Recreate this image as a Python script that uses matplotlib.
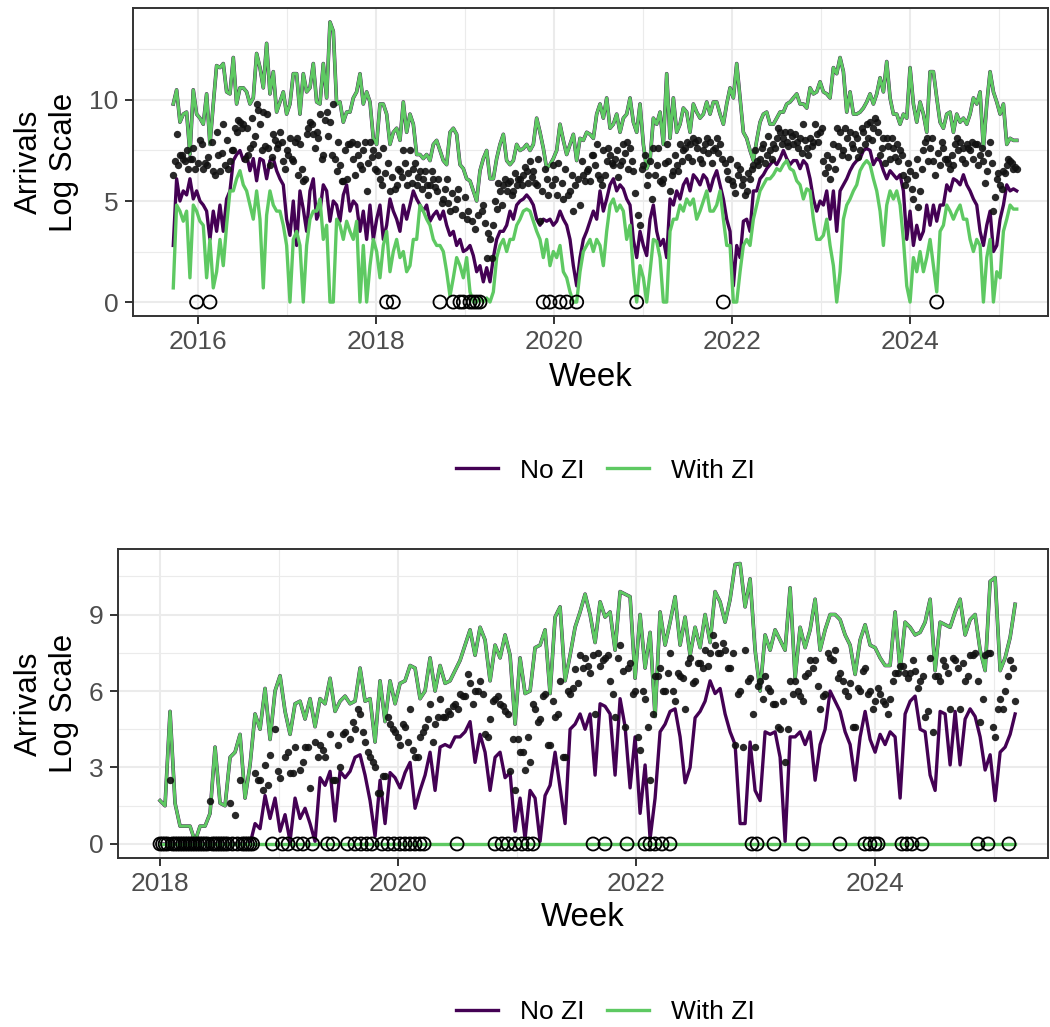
import numpy as np
import matplotlib
matplotlib.use("Agg")
import matplotlib.pyplot as plt
from matplotlib.lines import Line2D

plt.rcParams['font.family'] = ['Liberation Sans', 'DejaVu Sans']

# ---------------- data: top panel (decimal years, roughly bi-weekly readings) -------------
top_start, top_end = 2015.7225, 2025.199

top_upper = [
    9.8, 10.5, 8.9, 9.3, 9.4, 7.3, 10.5, 9.3, 9.1, 8.8, 10.3, 7.8, 9.8, 11.7, 11.6, 11.8, 10.4, 10.3, 12.1, 9.8,
    10.6, 10.6, 10.4, 9.8, 10.1, 12.3, 11.6, 10.6, 12.8, 10.3, 11.4, 9.4, 9.9, 10.4, 9.3, 9.8, 11.3, 11.3, 9.3, 11.3,
    10.4, 10.6, 11.8, 9.9, 9.8, 11.8, 10.1, 13.86, 13.4, 9.8, 9.9, 8.9, 9.4, 9.4, 10.1, 10.4, 11.3, 9.8, 10.4,
    9.9, 8.1, 7.8, 9.8, 9.8, 9.3, 7.8, 8.4, 8.6, 8.0, 9.9, 8.4, 9.3, 8.8, 7.3, 7.3, 7.1, 7.3, 7.0, 7.8,
    8.0, 7.5, 7.0, 6.8, 8.4, 8.6, 8.3, 6.8, 6.6, 6.1, 6.0, 5.5, 5.0, 6.5, 7.1, 7.5, 6.1, 6.1, 7.1, 7.8,
    8.3, 7.0, 6.8, 7.0, 7.8, 7.5, 7.6, 7.8, 7.5, 7.8, 9.1, 8.4, 7.6, 6.6, 6.8, 7.1, 7.5, 8.8, 8.0, 7.3,
    7.8, 8.3, 7.0, 8.1, 8.0, 8.4, 8.3, 8.1, 9.3,
    9.8, 9.1, 10.1, 8.6, 8.8, 9.3, 8.4, 9.1, 9.3, 10.1, 8.9, 8.4, 9.8, 7.8, 6.6, 7.0, 9.1, 8.8, 9.4, 7.8,
    11.3, 8.1, 10.1, 8.4, 8.8, 9.6, 9.4, 8.4, 9.8, 9.4, 9.1, 9.3, 9.9, 9.3, 9.9, 9.9, 9.3, 8.8, 9.8, 10.6,
    10.1, 11.8, 10.1, 8.4, 8.1, 7.5, 7.0, 8.0, 8.9, 9.3, 9.4, 8.8, 8.8, 9.1, 9.4, 9.4, 9.8, 9.9, 10.1, 10.3,
    9.8, 9.8, 9.6, 10.6, 10.3, 10.4, 10.9, 10.4, 10.3,
    10.1, 11.6, 11.3, 12.1, 11.4, 9.4, 10.4, 9.3, 9.3, 9.4, 9.6, 9.9, 10.3, 9.8, 10.3, 11.1, 10.4, 11.9, 10.1, 9.3,
    9.3, 8.8, 9.3, 9.1, 11.6, 9.8, 8.9, 9.9, 9.3, 8.4, 11.4, 11.4, 10.1, 8.9, 8.6, 9.3, 9.4, 8.4, 9.3, 8.9,
    9.1, 8.8, 9.3, 10.1, 9.8, 10.4, 7.6, 9.8, 11.4, 10.4, 9.9, 9.3, 9.8, 7.8, 8.1, 8.0, 8.0,
]

top_nozi_lo = [
    2.8, 6.1, 5.0, 5.5, 5.3, 6.1, 5.1, 5.5, 5.0, 4.8, 4.5, 3.1, 4.5, 3.5, 4.8, 3.5, 5.1, 5.5, 7.0, 7.3,
    7.5, 7.0, 7.3, 6.5, 7.1, 6.0, 7.1, 7.0, 6.1, 7.0, 7.1, 6.5, 6.1, 5.8, 4.1, 3.3, 5.0, 2.8, 5.5, 4.6,
    3.5, 5.5, 6.1, 4.1, 4.5, 5.8, 5.5, 4.0, 5.0, 4.8, 4.0, 5.3, 5.8, 4.5, 5.0, 4.8, 3.5, 4.5, 3.1,
    4.8, 3.1, 4.1, 4.8, 3.1, 3.8, 5.1, 4.5, 4.1, 3.5, 4.8, 4.1, 4.8, 5.5, 5.1, 4.8, 4.5, 4.8, 4.0, 4.3,
    4.5, 4.1, 4.5, 3.8, 3.3, 3.5, 2.8, 3.1, 2.5, 2.6, 2.8, 2.3, 1.5, 1.8, 1.0, 1.7, 1.0, 2.2, 3.1, 3.5,
    3.5, 3.8, 4.5, 4.1, 4.8, 5.0, 5.1, 5.3, 5.1, 4.8, 4.1, 3.8, 4.1, 4.0, 4.1, 3.8, 4.0, 4.5, 4.1, 3.8,
    3.1, 1.8, 0.8, 2.2, 3.1, 3.5, 4.0, 4.5, 4.1,
    5.5, 4.5, 5.1, 5.8, 6.1, 5.5, 5.8, 5.6, 5.1, 4.8, 3.1, 2.2, 3.5, 2.8, 2.3, 4.1, 4.8, 3.5, 2.8, 3.1,
    2.2, 5.1, 4.8, 5.5, 5.1, 5.8, 6.1, 5.5, 6.3, 6.1, 5.8, 6.3, 6.1, 5.5, 6.1, 6.5, 5.8, 5.1, 4.1, 3.5,
    0.8, 2.8, 2.2, 4.0, 4.1, 3.5, 5.5, 5.5, 6.1, 6.3, 6.6, 6.8, 7.0, 6.8, 7.1, 7.5, 7.1, 6.8, 7.0, 7.0,
    6.6, 7.0, 6.8, 6.1, 5.1, 4.5, 5.0, 4.8, 5.5,
    4.1, 5.5, 3.5, 5.5, 5.8, 6.1, 6.5, 6.8, 7.0, 7.1, 7.5, 7.6, 7.5, 6.8, 7.1, 7.0, 6.5, 6.1, 6.5, 6.3,
    6.1, 6.3, 5.5, 3.1, 4.5, 2.8, 3.8, 3.1, 3.5, 4.8, 3.8, 4.8, 4.0, 4.8, 4.8, 5.8, 5.5, 6.1, 6.0, 5.8,
    6.3, 5.8, 5.5, 5.1, 4.8, 3.5, 2.8, 3.8, 4.5, 2.5, 2.8, 4.1, 4.8, 5.8, 5.5, 5.6, 5.5,
]

top_zi_lo = [
    0.7, 4.8, 4.5, 4.0, 4.5, 1.2, 4.8, 4.5, 4.0, 3.8, 1.2, 3.1, 0.7, 1.5, 3.1, 1.8, 3.8, 5.5, 5.5, 6.1,
    6.5, 5.8, 5.5, 4.8, 4.1, 5.5, 4.1, 0.7, 4.3, 5.5, 4.8, 4.5, 4.5, 3.8, 2.8, 0.0, 3.1, 3.5, 2.8, 0.0,
    2.8, 4.1, 4.5, 4.5, 5.1, 3.1, 3.8, 0.0, 0.0, 4.1, 3.8, 3.1, 4.0, 3.5, 3.1, 4.0, 0.0, 2.8, 0.0,
    1.8, 3.1, 2.5, 1.2, 2.8, 3.5, 1.5, 2.5, 3.1, 2.2, 2.5, 1.5, 1.8, 3.1, 3.1, 4.8, 4.5, 4.1, 3.8, 3.1,
    2.8, 2.8, 2.5, 1.5, 0.3, 1.2, 2.2, 1.8, 1.2, 2.2, 0.5, 0.0, 0.0, 0.2, 0.0, 0.2, 0.0, 0.5, 2.2, 2.8,
    3.1, 2.5, 3.1, 3.1, 3.8, 4.1, 4.5, 4.6, 4.5, 4.0, 3.5, 3.1, 2.2, 3.1, 1.8, 2.5, 2.2, 2.8, 1.5, 1.2,
    0.5, 0.0, 0.0, 1.5, 2.5, 2.8, 3.1, 2.5, 3.1,
    2.8, 1.8, 3.5, 4.8, 5.1, 4.5, 4.8, 4.5, 3.1, 3.8, 1.5, 0.0, 1.8, 1.2, 0.0, 1.5, 3.1, 3.0, 2.2, 0.0,
    0.0, 3.5, 4.1, 4.1, 4.8, 4.5, 5.1, 4.8, 5.1, 4.1, 4.5, 5.0, 5.5, 4.5, 4.5, 4.8, 5.5, 4.1, 2.8, 2.8,
    0.0, 0.0, 1.5, 2.8, 3.1, 2.8, 4.1, 4.8, 5.5, 5.8, 6.1, 6.1, 6.3, 6.6, 6.5, 6.8, 7.0, 6.6, 6.5, 6.0,
    5.8, 5.1, 5.6, 5.5, 4.1, 3.1, 3.1, 3.3, 4.1,
    2.8, 1.8, 0.0, 1.5, 4.1, 4.8, 5.1, 5.5, 5.8, 6.5, 6.8, 7.0, 6.8, 6.1, 5.5, 4.5, 2.8, 4.8, 5.5, 5.1,
    5.5, 4.8, 3.1, 0.8, 0.0, 2.2, 1.5, 2.5, 1.5, 2.2, 3.1, 1.8, 0.5, 3.5, 3.8, 4.8, 4.5, 4.1, 4.5, 4.8,
    4.1, 4.1, 3.1, 2.5, 3.1, 2.8, 0.0, 2.2, 3.1, 0.0, 1.5, 1.2, 3.5, 4.1, 4.8, 4.6, 4.6,
]

# observed arrivals (log) on the same weeks as the interval readings
top_obs = [
    6.3, 8.3, 7.3, 7.1, 7.5, 7.1, 7.6, 0.0, 8.0, 6.6, 6.8, 0.0, 6.5, 8.4, 6.5, 8.8, 8.0, 7.0, 7.5, 8.4,
    8.9, 8.8, 8.6, 7.6, 7.8, 9.8, 8.8, 9.4, 9.3, 6.8, 8.3, 7.6, 8.4, 7.0, 7.5, 8.1, 7.0, 8.1, 7.8, 6.0,
    8.3, 8.9, 8.3, 8.4, 9.3, 7.3, 9.4, 8.9, 9.8, 6.5, 6.8, 6.0, 6.1, 7.8, 7.1, 7.8, 6.8, 7.5, 5.5,
    7.9, 7.5, 6.5, 6.1, 7.6, 0.0, 5.5, 0.0, 5.8, 6.5, 7.5, 5.8, 7.5, 6.6, 5.8, 6.5, 6.1, 5.8, 5.8, 6.1,
    5.5, 0.0, 5.1, 6.1, 4.5, 0.0, 5.1, 0.0, 0.0, 4.1, 0.0, 0.0, 0.0, 0.0, 4.8, 2.2, 3.1, 3.8, 4.6, 5.5,
    5.8, 5.5, 6.0, 5.5, 5.8, 6.1, 6.3, 6.5, 7.0, 6.5, 5.8, 4.0, 0.0, 6.1, 0.0, 6.8, 5.3, 0.0, 5.1, 0.0,
    5.5, 4.5, 0.0, 4.8, 6.3, 6.5, 6.0, 7.3, 7.8,
    6.1, 7.5, 7.0, 7.3, 6.8, 7.5, 6.8, 7.8, 7.9, 7.6, 6.5, 0.0, 3.8, 6.8, 5.8, 7.0, 7.6, 6.8, 6.0, 6.1,
    7.8, 5.5, 6.5, 6.8, 7.8, 7.5, 7.9, 7.8, 8.1, 7.6, 7.1, 7.5, 8.1, 7.9, 7.5, 8.1, 7.8, 0.0, 6.5, 7.1,
    5.8, 6.8, 6.6, 6.1, 5.5, 6.1, 6.8, 7.0, 7.1, 7.8, 7.3, 7.5, 7.8, 8.1, 8.4, 8.1, 7.9, 8.4, 7.8, 7.9,
    8.1, 8.8, 7.6, 8.1, 7.9, 8.3, 8.4, 7.0, 7.3,
    6.1, 7.8, 8.6, 8.4, 7.5, 8.1, 8.4, 7.6, 8.1, 7.5, 8.4, 8.8, 8.9, 8.6, 8.9, 7.3, 8.1, 8.1, 7.1, 7.6,
    7.8, 7.5, 6.3, 6.1, 6.5, 5.1, 7.1, 5.5, 7.5, 8.1, 7.6, 7.0, 0.0, 6.8, 7.6, 7.1, 6.6, 6.8, 8.1, 7.9,
    7.6, 7.8, 7.5, 7.1, 7.8, 7.3, 7.0, 6.5, 7.9, 4.5, 6.1, 5.8, 6.5, 6.8, 7.0, 6.6, 6.6,
]

# observed arrivals (log) on the in-between weeks
top_obs_mid = [
    7.0, 6.8, 7.3, 7.0, 6.6, 7.1, 6.6, 6.9, 7.8, 6.9, 7.2, 7.9, 6.3, 7.3, 7.4, 6.8, 6.6, 7.5, 8.6, 9.0,
    8.6, 7.1, 7.3, 9.1, 8.2, 9.5, 7.5, 7.7, 7.6, 7.2, 8.0, 7.8, 7.9, 6.6, 7.3, 7.1, 7.9, 6.3, 6.6, 6.1,
    8.6, 8.8, 7.6, 8.1, 7.1, 9.0, 8.2, 7.3, 7.1, 7.9, 6.0, 7.5, 7.8, 7.9, 6.3, 7.3, 6.6, 7.9,
    6.9,
    7.2, 6.6, 7.3, 5.8, 6.4, 6.9, 6.2, 5.6, 6.6, 6.2, 6.9, 6.4, 5.9, 6.9, 6.2, 5.6, 6.5, 5.3, 6.5, 5.7,
    6.1, 4.9, 5.6, 4.9, 5.4, 4.6, 5.6, 4.3, 5.2, 4.5, 4.0, 3.6, 4.3, 4.5, 3.9, 3.4, 2.2, 5.0, 5.9, 4.8,
    6.1, 5.9, 5.3, 6.4, 6.1, 5.8, 6.7, 5.9, 6.2, 5.9, 7.1, 5.5, 6.6, 5.3, 5.8, 6.1, 6.9, 5.9, 6.6, 5.3,
    6.3, 5.8, 6.1, 7.0, 6.0, 6.6, 7.3, 6.8,
    6.3,
    5.8, 6.3, 7.6, 6.9, 7.1, 6.2, 7.0, 7.4, 6.6, 7.0, 5.4, 4.3, 6.6, 7.3, 6.3, 5.1, 6.3, 7.6, 5.9, 6.9,
    7.0, 6.3, 7.3, 6.5, 7.0, 7.6, 7.2, 7.0, 7.9, 8.0, 6.9, 7.8, 7.4, 6.9, 7.6, 7.4, 7.1, 6.9, 6.1, 6.0,
    5.4, 6.3, 5.8, 5.3, 6.4, 6.6, 7.5, 6.8, 7.6, 6.9, 8.2, 7.1, 7.6, 8.6, 7.8, 8.4, 7.7, 8.2, 8.3, 7.6,
    7.4, 8.0, 7.3, 7.7, 8.8, 7.9, 8.6, 6.4,
    6.7,
    7.1, 6.6, 7.7, 7.3, 8.6, 7.2, 7.8, 8.3, 7.2, 8.6, 7.8, 8.1, 8.0, 9.1, 8.4, 7.6, 6.9, 7.7, 8.1, 7.2,
    7.0, 7.3, 5.8, 6.9, 5.6, 6.3, 4.7, 6.6, 7.9, 7.0, 8.1, 6.3, 7.4, 7.9, 7.1, 6.9, 7.3, 7.8, 7.5, 7.1,
    6.9, 7.6, 7.9, 7.8, 6.8, 7.6, 5.9, 7.4, 6.9, 5.2, 6.4, 5.6, 6.4, 7.1, 6.9, 6.7,
]

# ---------------- data: bottom panel -------------
bot_start, bot_end = 2018.0, 2025.18

bot_upper = [
    1.7, 1.5, 5.2, 1.6, 0.7, 0.7, 0.7, 0.1, 0.7, 0.7, 1.2, 3.8, 1.6, 1.5, 3.4, 3.6, 4.3, 1.8, 3.1, 5.1,
    4.5, 6.1, 4.1, 6.0, 6.6, 5.2, 4.3, 5.5, 5.6, 4.9, 5.7, 4.6, 5.7, 5.5, 6.5, 5.2, 5.6, 5.8, 5.5,
    5.6, 6.9, 5.6, 5.7, 4.0, 6.4, 4.8, 6.4, 5.5, 6.3, 6.4, 7.0, 6.9, 5.7, 6.0, 7.3, 6.0, 7.0, 6.3, 6.4,
    6.8, 7.2, 7.8, 8.4, 7.4, 8.5, 8.0, 6.4, 7.8, 7.3, 8.2, 7.4, 4.7, 7.3, 5.9, 6.0, 7.7, 7.8, 8.4, 5.9,
    8.9, 9.3, 6.4, 7.4, 8.5, 9.1,
    9.8, 9.0, 7.9, 9.5, 8.9, 9.1, 7.6, 9.9, 9.8, 9.7, 6.5, 9.0, 6.9, 8.3, 5.0, 9.1, 7.8, 8.7, 9.7, 7.8,
    8.9, 7.4, 8.5, 7.7, 9.0, 7.9, 9.9, 9.5, 8.7, 9.6, 10.97, 11.0, 9.3, 10.4, 7.6, 6.0, 8.2, 7.6, 8.4, 8.0,
    7.6, 10.05, 6.5, 8.5, 7.7, 8.4,
    9.6, 7.6, 8.4, 9.0, 9.0, 8.8, 8.2, 7.8, 6.65, 8.0, 8.6, 7.8, 7.7, 7.3, 7.0, 7.0, 9.1, 6.8, 8.7, 8.5,
    8.2, 8.3, 8.7, 9.6, 6.8, 8.7, 8.6, 8.5, 9.1, 9.6, 8.2, 8.8, 9.0, 7.6, 6.8, 10.3, 10.45, 6.8, 7.3, 8.1,
    9.4,
]

bot_nozi_lo = [
    0.0, 0.0, 0.0, 0.0, 0.0, 0.0, 0.0, 0.0, 0.0, 0.0, 0.0, 0.0, 0.0, 0.0, 0.0, 0.0, 0.0, 0.0, 0.0,
    0.8, 0.6, 1.9, 1.0, 1.8, 0.5, 1.15, 0.1, 1.8, 1.0, 1.4, 0.8, 0.1, 2.6, 2.3, 2.85, 0.9, 2.85, 2.6, 2.85,
    3.4, 3.5, 2.7, 1.7, 0.3, 2.5, 0.8, 2.8, 2.6, 2.2, 2.8, 3.2, 1.4, 2.1, 2.7, 3.6, 2.1, 3.8, 3.9, 3.8,
    4.2, 4.2, 4.4, 4.8, 3.2, 4.3, 3.6, 2.1, 3.4, 3.6, 2.6, 2.8, 0.5, 1.8, 0.2, 2.1, 1.8, 0.1, 1.9, 2.3,
    3.6, 2.2, 0.8, 4.5, 4.7, 5.1,
    4.5, 5.1, 2.7, 5.5, 5.4, 5.1, 2.7, 5.7, 4.6, 2.2, 4.2, 1.2, 3.1, 0.2, 1.8, 4.4, 4.7, 5.2, 5.3, 4.2,
    2.4, 3.0, 4.95, 5.2, 5.6, 6.4, 5.9, 6.1, 5.1, 4.4, 3.9, 0.8, 0.8, 4.0, 2.1, 1.7, 4.4, 4.3, 4.4, 3.4,
    0.1, 4.2, 4.2, 4.4, 3.9, 4.4,
    2.5, 3.9, 4.5, 6.0, 5.6, 5.2, 4.4, 3.9, 2.5, 4.2, 5.2, 4.1, 3.6, 4.3, 3.9, 4.4, 4.2, 1.8, 5.1, 5.6,
    5.8, 4.5, 4.4, 2.7, 2.1, 5.2, 5.1, 3.1, 5.2, 3.1, 4.9, 5.3, 5.0, 4.2, 2.9, 3.5, 1.7, 3.6, 3.8, 4.3,
    5.1,
]

bot_zi_lo = [0.0] * len(bot_upper)

bot_obs = [
    0.0, 0.0, 2.5, 0.0, 0.0, 0.0, 0.0, 0.0, 0.0, 0.0, 1.7, 0.0, 0.0, 0.0, 1.6, 1.15, 2.5, 0.0, 0.0, 2.8,
    2.5, 3.1, 3.5, 4.5, 2.6, 3.4, 2.8, 3.8, 2.9, 3.8, 2.2, 4.0, 3.9, 3.4, 4.3, 2.5, 3.0, 4.4, 4.1,
    4.5, 5.1, 4.0, 3.4, 3.0, 2.0, 2.65, 4.7, 4.4, 3.9, 4.6, 5.3, 3.4, 4.2, 4.6, 5.5, 4.7, 5.7, 5.0, 5.1,
    5.5, 5.9, 5.8, 6.3, 6.0, 6.4, 4.3, 4.9, 5.7, 5.5, 5.2, 2.85, 2.1, 3.6, 2.9, 3.2, 5.3, 4.9, 5.9, 3.9,
    5.0, 6.4, 3.4, 5.9, 6.85, 7.4,
    7.3, 6.7, 5.1, 7.0, 7.3, 6.4, 5.0, 7.8, 4.6, 7.1, 6.0, 3.7, 5.7, 2.5, 6.6, 6.9, 6.0, 7.5, 5.6, 6.6,
    5.3, 7.3, 6.4, 7.1, 7.6, 7.5, 7.8, 7.5, 7.6, 6.9, 3.9, 6.0, 7.6, 6.5, 3.8, 6.4, 6.6, 6.0, 5.5, 4.5,
    3.2, 6.4, 6.4, 5.8, 6.6, 7.2,
    7.2, 5.3, 5.9, 7.3, 7.6, 6.7, 6.0, 6.3, 4.6, 6.0, 6.9, 6.0, 5.6, 5.9, 5.5, 5.7, 6.7, 7.0, 6.7, 6.7,
    6.8, 6.4, 5.0, 7.3, 6.6, 6.4, 7.0, 5.3, 7.2, 5.3, 6.4, 7.4, 7.5, 4.8, 7.4, 7.5, 4.2, 5.7, 6.0, 7.2,
    5.6,
]

bot_obs_mid = [
    0.0, 0.0, 0.0, 0.0, 0.0, 0.0, 0.0, 0.0, 0.0, 0.0, 0.0, 0.0, 0.0, 0.0, 0.0, 0.0, 0.0, 0.0,
    0.0, 2.5, 2.1, 2.3, 0.0, 2.85, 0.0, 3.6, 2.8, 0.0, 3.2, 3.8, 0.0, 3.4, 3.7, 0.0, 2.5, 3.9, 4.3, 0.0,
    4.8,
    5.3, 4.4, 3.6, 3.2, 2.0, 2.65, 5.0, 4.5, 4.2, 4.7, 4.0, 3.7, 3.4, 4.4, 4.9, 4.0, 5.0, 5.0, 5.2, 5.4,
    5.3, 5.8, 6.65, 5.5, 6.0, 5.9, 4.2, 5.6, 5.8, 5.4, 5.1, 4.1, 4.1, 3.6, 4.2, 5.5, 4.8, 5.8, 3.9, 5.6,
    5.1, 3.4, 6.0, 6.1, 6.3,
    6.9,
    7.0, 7.4, 7.5, 7.2, 7.4, 5.9, 7.3, 6.8, 6.9, 5.9, 4.2, 6.0, 4.6, 5.1, 6.6, 6.0, 6.7, 6.0, 6.7, 6.5,
    7.1, 6.3, 7.1, 6.9, 7.0, 8.2, 7.5, 7.9, 6.9, 7.5, 5.9, 3.8, 6.4, 5.1, 6.2, 5.7, 6.1, 5.5, 4.6, 5.6,
    4.5, 5.9, 6.0, 5.6, 6.7,
    6.9,
    6.2, 5.8, 7.5, 7.2, 6.5, 6.4, 5.8, 4.6, 6.1, 6.8, 5.9, 5.3, 6.1, 5.6, 5.1, 6.4, 6.7, 7.0, 6.5, 7.2,
    6.1, 6.6, 5.2, 4.4, 6.6, 7.2, 6.7, 7.3, 6.9, 7.1, 6.6, 7.4, 6.4, 5.7, 7.5, 4.6, 5.3, 5.3, 6.6, 6.9,
]

# further weeks with zero arrivals (bottom panel), decimal years
bot_zero_weeks = [
    2019.075, 2019.201, 2019.453, 2019.637,
    2019.688, 2019.738, 2019.780, 2019.864, 2019.914, 2019.965, 2020.015, 2020.057, 2020.099, 2020.141,
    2020.183, 2020.217, 2020.494, 2020.813, 2020.872, 2020.922, 2020.981, 2021.039, 2021.090, 2021.132,
    2021.636, 2021.736, 2021.921, 2022.072, 2022.114, 2022.156, 2022.215, 2022.282, 2022.971, 2023.013,
    2023.155, 2023.399, 2023.709, 2023.919, 2023.961, 2024.003, 2024.029, 2024.230, 2024.272, 2024.314,
    2024.398, 2024.868, 2024.952, 2025.128,
]

top_xmajor = [2016, 2018, 2020, 2022, 2024]
top_ymajor = [0, 5, 10]
bot_xmajor = [2018, 2020, 2022, 2024]
bot_ymajor = [0, 3, 6, 9]
series_labels = ["No ZI", "With ZI"]

# ---------------- styling -------------
PURPLE = "#440154"
GREEN = "#5EC962"
W, H = 1050, 1027
fig = plt.figure(figsize=(W / 100, H / 100), dpi=100)

TICK_FS = 19
TITLE_FS = 22.5


def xs_for(arr, a, b):
    return np.linspace(a, b, len(arr))


def mids_for(arr, base, a, b):
    xb = xs_for(base, a, b)
    m = (xb[:-1] + xb[1:]) / 2
    if len(m) == len(arr):
        return m
    return np.linspace(m[0], m[-1], len(arr))


def draw_panel(ax, a, b, upper, nz_lo, zi_lo, obs, obs_mid, extra_zero, xlim, ylim,
               xmaj, xminor, ymaj, yminor):
    ax.plot(xs_for(upper, a, b), upper, color=PURPLE, lw=2.6, solid_joinstyle='round', zorder=2)
    ax.plot(xs_for(nz_lo, a, b), nz_lo, color=PURPLE, lw=2.4, solid_joinstyle='round', zorder=2)
    ax.plot(xs_for(upper, a, b), upper, color=GREEN, lw=2.2, solid_joinstyle='round', zorder=3)
    ax.plot(xs_for(zi_lo, a, b), zi_lo, color=GREEN, lw=2.4, solid_joinstyle='round', zorder=3)
    xo = np.concatenate([xs_for(obs, a, b), mids_for(obs_mid, obs, a, b)])
    ob = np.concatenate([np.array(obs, float), np.array(obs_mid, float)])
    pos = ob > 0
    ax.scatter(xo[pos], ob[pos], s=28, color='#111111', alpha=0.9, linewidths=0, zorder=4)
    zx = list(xo[~pos]) + list(extra_zero)
    ax.scatter(zx, [0] * len(zx), s=88, facecolors='none', edgecolors='black',
               linewidths=1.3, zorder=5)
    ax.set_xlim(*xlim)
    ax.set_ylim(*ylim)
    ax.set_xticks(xmaj)
    ax.set_xticklabels([str(v) for v in xmaj])
    ax.set_xticks(xminor, minor=True)
    ax.set_yticks(ymaj)
    ax.set_yticklabels([str(v) for v in ymaj])
    ax.set_yticks(yminor, minor=True)
    ax.grid(which='major', color='#EBEBEB', lw=1.5)
    ax.grid(which='minor', color='#EBEBEB', lw=0.8)
    ax.set_axisbelow(True)
    for s in ax.spines.values():
        s.set_color('#333333')
        s.set_linewidth(1.4)
    ax.tick_params(which='major', length=5.9, width=1.4, color='#333333',
                   labelsize=TICK_FS, labelcolor='#4D4D4D', pad=4.5)
    ax.tick_params(which='minor', length=0)


def add_titles(ax_top_px, ax_bot_px, left_px, right_px, week_y, legend_y):
    cy = (ax_top_px + ax_bot_px) / 2
    fig.text(46 / W, 1 - cy / H, "Arrivals\nLog Scale", rotation=90, ha='center', va='center',
             multialignment='center', linespacing=1.22, fontsize=TITLE_FS)
    fig.text((left_px + right_px) / 2 / W, 1 - week_y / H, "Week", ha='center', va='center',
             fontsize=23.8)
    handles = [Line2D([], [], color=PURPLE, lw=2.4), Line2D([], [], color=GREEN, lw=2.4)]
    fig.legend(handles, series_labels, loc='center', bbox_to_anchor=(605 / W, 1 - legend_y / H),
               ncol=2, frameon=False, fontsize=TICK_FS, handlelength=1.6, handletextpad=0.82,
               columnspacing=0.86)


# top panel
t_l, t_r, t_t, t_b = 133, 1048, 8, 316
ax1 = fig.add_axes([t_l / W, 1 - t_b / H, (t_r - t_l) / W, (t_b - t_t) / H])
draw_panel(ax1, top_start, top_end, top_upper, top_nozi_lo, top_zi_lo, top_obs, top_obs_mid, [],
           (2015.27, 2025.55), (-0.69, 14.55), top_xmajor,
           [2017, 2019, 2021, 2023, 2025], top_ymajor, [2.5, 7.5, 12.5])
add_titles(t_t, t_b, t_l, t_r, 378, 470.5)

# bottom panel
b_l, b_r, b_t, b_b = 118, 1048, 549, 858
ax2 = fig.add_axes([b_l / W, 1 - b_b / H, (b_r - b_l) / W, (b_b - b_t) / H])
draw_panel(ax2, bot_start, bot_end, bot_upper, bot_nozi_lo, bot_zi_lo, bot_obs, bot_obs_mid,
           bot_zero_weeks, (2017.647, 2025.456), (-0.55, 11.57), bot_xmajor,
           [2019, 2021, 2023, 2025], bot_ymajor, [1.5, 4.5, 7.5, 10.5])
add_titles(b_t, b_b, b_l, b_r, 918, 1012)

fig.savefig("out.png", dpi=100)
